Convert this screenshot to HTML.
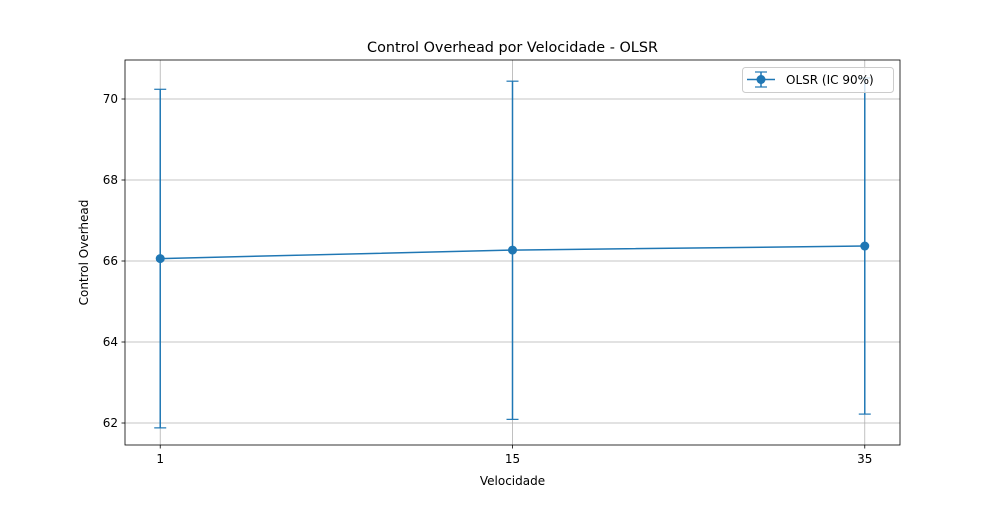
<!DOCTYPE html>
<html><head><meta charset="utf-8"><style>
body{margin:0;background:#fff;}
svg text{font-family:"DejaVu Sans","Liberation Sans",sans-serif;fill:#000;}
</style></head><body>
<svg id="chart" width="1000" height="500" xmlns="http://www.w3.org/2000/svg"></svg>
<script>
const categories = ["1","15","35"];
const means = [66.06, 66.27, 66.37];
const lowers = [61.88, 62.09, 62.22];
const uppers = [70.24, 70.44, 70.52];
const yTicks = [62,64,66,68,70];

const L=125,R=900,T=60,B=445;
const xMin=-0.1,xMax=2.1,yMin=61.457,yMax=70.963;
const X=i=>L+(i-xMin)/(xMax-xMin)*(R-L);
const Y=v=>B-(v-yMin)/(yMax-yMin)*(B-T);
const svg=document.getElementById('chart');
const NS='http://www.w3.org/2000/svg';
function mk(tag,attrs,parent){const e=document.createElementNS(NS,tag);for(const k in attrs)e.setAttribute(k,attrs[k]);(parent||svg).appendChild(e);return e;}

// grid
yTicks.forEach(v=>{
  const g=mk('line',{x1:L,x2:R,y1:Y(v),y2:Y(v),stroke:'#b0b0b0','stroke-width':0.8});
  
  
  const t=mk('line',{x1:L-3.5,x2:L,y1:Y(v),y2:Y(v),stroke:'#000','stroke-width':0.8});
  
  
  const tx=mk('text',{x:L-7,y:Y(v)+4,'text-anchor':'end','font-size':12});
  tx.textContent=v;
  
  
});
categories.forEach((c,i)=>{
  const g=mk('line',{x1:X(i),x2:X(i),y1:T,y2:B,stroke:'#b0b0b0','stroke-width':0.8});
  
  
  const t=mk('line',{x1:X(i),x2:X(i),y1:B,y2:B+3.5,stroke:'#000','stroke-width':0.8});
  
  
  const tx=mk('text',{x:X(i),y:B+18,'text-anchor':'middle','font-size':12});
  tx.textContent=c;
  
  
});
const col='#1f77b4';
// error bars
categories.forEach((c,i)=>{
  const e=mk('line',{x1:X(i),x2:X(i),y1:Y(lowers[i]),y2:Y(uppers[i]),stroke:col,'stroke-width':1.5});
  
  
  [lowers[i],uppers[i]].forEach(v=>{
    const cp=mk('line',{x1:X(i)-6,x2:X(i)+6,y1:Y(v),y2:Y(v),stroke:col,'stroke-width':1.2});
    
    
  });
});
const pl=mk('polyline',{points:means.map((v,i)=>X(i)+','+Y(v)).join(' '),fill:'none',stroke:col,'stroke-width':1.5});


means.forEach((v,i)=>{
  const p=mk('circle',{cx:X(i),cy:Y(v),r:4.5,fill:col});
  
  
});
// frame
const fr=mk('rect',{x:L,y:T,width:R-L,height:B-T,fill:'none',stroke:'#000','stroke-width':0.8});


// legend
const lg=mk('g',{});


mk('rect',{x:742.5,y:67.5,width:151,height:25,rx:3,fill:'#fff','fill-opacity':0.8,stroke:'#ccc'},lg);
mk('line',{x1:747,x2:775,y1:79.5,y2:79.5,stroke:col,'stroke-width':1.5},lg);
mk('line',{x1:761,x2:761,y1:72,y2:87,stroke:col,'stroke-width':1.5},lg);
mk('line',{x1:755,x2:767,y1:72,y2:72,stroke:col,'stroke-width':1.2},lg);
mk('line',{x1:755,x2:767,y1:87,y2:87,stroke:col,'stroke-width':1.2},lg);
mk('circle',{cx:761,cy:79.5,r:4.5,fill:col},lg);
const lt=mk('text',{x:786,y:84,'font-size':12},lg);lt.textContent='OLSR (IC 90%)';
// titles
const tt=mk('text',{x:(L+R)/2,y:52,'text-anchor':'middle','font-size':14.4});tt.textContent='Control Overhead por Velocidade - OLSR';


const xt=mk('text',{x:(L+R)/2,y:485,'text-anchor':'middle','font-size':12});xt.textContent='Velocidade';


const yt=mk('text',{x:0,y:0,'text-anchor':'middle','font-size':12,transform:'translate(88,'+((T+B)/2)+') rotate(-90)'});yt.textContent='Control Overhead';


</script>
</body></html>
